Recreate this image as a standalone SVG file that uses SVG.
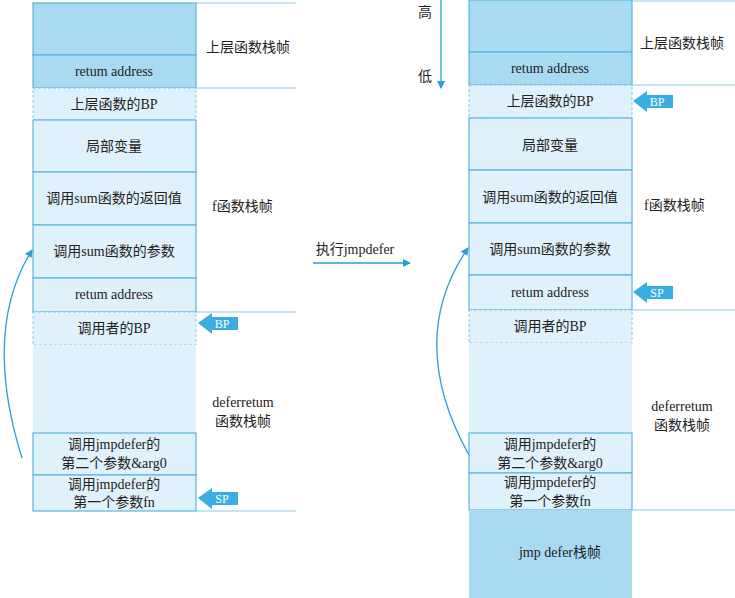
<svg xmlns="http://www.w3.org/2000/svg" width="735" height="598" viewBox="0 0 735 598">
<style>
text{font-family:"Liberation Serif","Noto Sans CJK SC",serif;font-size:14px;fill:#222;text-anchor:middle}
.l{text-anchor:start}
.d{fill:#a8dbf2;stroke:#5bb6de;stroke-width:1.2}
.c{fill:#dff1fb;stroke:#5bb6de;stroke-width:1.2}
.ds{fill:#dff1fb;stroke:#8cc6e2;stroke-width:1;stroke-dasharray:3,2}
.e{fill:#dff1fb;stroke:none}
.hl{stroke:#8ccbe8;stroke-width:1.2}
.con{fill:none;stroke:#2a9fd6;stroke-width:1.3}
.ptr{fill:#3aaee2}
.pt{fill:#fff;font-size:12px}
</style>
<defs><marker id="ah" markerWidth="8" markerHeight="8" refX="7" refY="4" orient="auto" markerUnits="userSpaceOnUse"><path d="M0,0 L8,4 L0,8 z" fill="#2a9fd6"/></marker></defs>

<g id="left-frame-lines">
<line class="hl" x1="196" y1="3" x2="296" y2="3"/>
<line class="hl" x1="196" y1="88" x2="296" y2="88"/>
<line class="hl" x1="196" y1="312" x2="296" y2="312"/>
<line class="hl" x1="196" y1="511" x2="296" y2="511"/>
</g>
<g id="L-upper"><rect class="d" x="33" y="3" width="163" height="52"/></g>
<g id="L-ret1"><rect class="d" x="33" y="55" width="163" height="33"/><text x="114" y="76">retum address</text></g>
<g id="L-bp"><rect class="ds" x="33" y="88" width="163" height="32"/><text x="114" y="109">上层函数的BP</text></g>
<g id="L-local"><rect class="c" x="33" y="120" width="163" height="52"/><text x="114" y="151">局部变量</text></g>
<g id="L-retval"><rect class="c" x="33" y="172" width="163" height="53"/><text x="114" y="203">调用sum函数的返回值</text></g>
<g id="L-args"><rect class="c" x="33" y="225" width="163" height="53"/><text x="114" y="256">调用sum函数的参数</text></g>
<g id="L-ret2"><rect class="c" x="33" y="278" width="163" height="34"/><text x="114" y="299">retum address</text></g>
<g id="L-cbp"><rect class="ds" x="33" y="312" width="163" height="33"/><text x="114" y="333">调用者的BP</text></g>
<g id="L-empty"><rect class="e" x="33" y="345" width="163" height="88"/></g>
<g id="L-arg2"><rect class="c" x="33" y="433" width="163" height="42"/><text x="114" y="449">调用jmpdefer的</text><text x="114" y="468">第二个参数&amp;arg0</text></g>
<g id="L-arg1"><rect class="c" x="33" y="475" width="163" height="36"/><text x="114" y="489">调用jmpdefer的</text><text x="114" y="507">第一个参数fn</text></g>
<g id="L-labels">
<text class="l" x="206" y="52">上层函数栈帧</text>
<text class="l" x="212" y="211">f函数栈帧</text>
<text x="243" y="407">deferretum</text>
<text x="243" y="426">函数栈帧</text>
</g>
<g id="L-BP-ptr"><path class="ptr" d="M198,323 L212,313 L212,317 L238,317 L238,330 L212,330 L212,334 z"/><text class="pt" x="222" y="328">BP</text></g>
<g id="L-SP-ptr"><path class="ptr" d="M198,498 L212,488 L212,492 L238,492 L238,505 L212,505 L212,509 z"/><text class="pt" x="222" y="503">SP</text></g>

<g id="right-frame-lines">
<line class="hl" x1="632" y1="1" x2="735" y2="1"/>
<line class="hl" x1="632" y1="85" x2="735" y2="85"/>
<line class="hl" x1="632" y1="310" x2="735" y2="310"/>
<line class="hl" x1="632" y1="510" x2="735" y2="510"/>
</g>
<g id="R-upper"><rect class="d" x="469" y="0" width="163" height="52"/></g>
<g id="R-ret1"><rect class="d" x="469" y="52" width="163" height="33"/><text x="550" y="73">retum address</text></g>
<g id="R-bp"><rect class="ds" x="469" y="85" width="163" height="33"/><text x="550" y="106">上层函数的BP</text></g>
<g id="R-local"><rect class="c" x="469" y="118" width="163" height="52"/><text x="550" y="150">局部变量</text></g>
<g id="R-retval"><rect class="c" x="469" y="170" width="163" height="53"/><text x="550" y="202">调用sum函数的返回值</text></g>
<g id="R-args"><rect class="c" x="469" y="223" width="163" height="52"/><text x="550" y="254">调用sum函数的参数</text></g>
<g id="R-ret2"><rect class="c" x="469" y="275" width="163" height="35"/><text x="550" y="297">retum address</text></g>
<g id="R-cbp"><rect class="ds" x="469" y="310" width="163" height="33"/><text x="550" y="331">调用者的BP</text></g>
<g id="R-empty"><rect class="e" x="469" y="343" width="163" height="90"/></g>
<g id="R-arg2"><rect class="c" x="469" y="433" width="163" height="40"/><text x="550" y="449">调用jmpdefer的</text><text x="550" y="468">第二个参数&amp;arg0</text></g>
<g id="R-arg1"><rect class="c" x="469" y="473" width="163" height="37"/><text x="550" y="487">调用jmpdefer的</text><text x="550" y="506">第一个参数fn</text></g>
<g id="R-jmp"><rect class="d" x="469" y="510" width="163" height="88" style="stroke:none"/><text x="560" y="557">jmp defer栈帧</text></g>
<g id="R-labels">
<text class="l" x="640" y="48">上层函数栈帧</text>
<text class="l" x="644" y="210">f函数栈帧</text>
<text x="682" y="411">deferretum</text>
<text x="682" y="430">函数栈帧</text>
<text x="425" y="17">高</text>
<text x="425" y="81">低</text>
</g>
<g id="R-BP-ptr"><path class="ptr" d="M633,101 L647,91 L647,95 L673,95 L673,108 L647,108 L647,112 z"/><text class="pt" x="657" y="106">BP</text></g>
<g id="R-SP-ptr"><path class="ptr" d="M633,292 L647,282 L647,286 L673,286 L673,299 L647,299 L647,303 z"/><text class="pt" x="657" y="297">SP</text></g>

<text x="355" y="254">执行jmpdefer</text>

<g id="connectors">
<line class="con" x1="441" y1="0" x2="441" y2="88" marker-end="url(#ah)"/>
<line class="con" x1="313" y1="263" x2="410" y2="263" marker-end="url(#ah)"/>
<path class="con" d="M22,458 Q-18,330 32,250" marker-end="url(#ah)"/>
<path class="con" d="M469,455 Q405,340 468,248" marker-end="url(#ah)"/>
</g>
</svg>
